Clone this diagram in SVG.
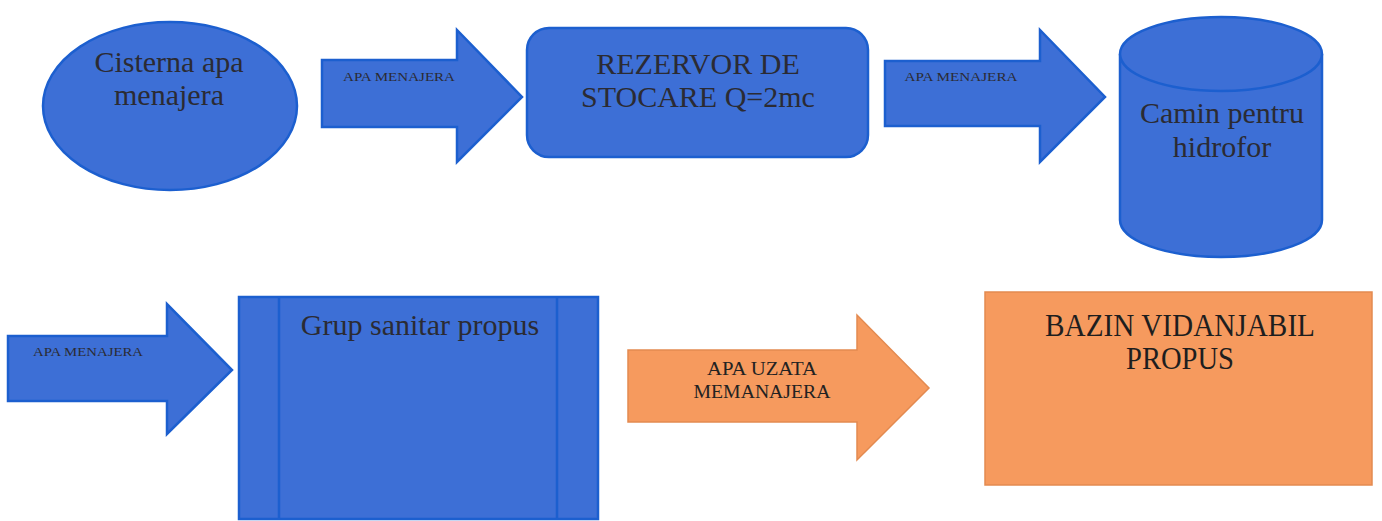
<svg xmlns="http://www.w3.org/2000/svg" width="1382" height="521" viewBox="0 0 1382 521">
<style>
.b{fill:#3d6fd6;stroke:#1c5fcf;stroke-width:2.5}
.o{fill:#f69a5e;stroke:#e38a50;stroke-width:1.5}
.t{font-family:"Liberation Serif","Times New Roman",serif;fill:#2b2b33;text-anchor:middle}
.big{font-size:30px}
.sm{font-size:12.5px}
.md{font-size:19px;fill:#222}
.ob{font-size:31px;fill:#1e1e1e}
</style>
<rect width="1382" height="521" fill="#ffffff"/>
<g id="connectors">
<g id="arrow1">
<polygon class="b" points="322,60 457,60 457,30 522,97 457,162 457,127 322,127"/>
<text class="t sm" x="399" y="81" textLength="112" lengthAdjust="spacingAndGlyphs">APA MENAJERA</text>
</g>
<g id="arrow2">
<polygon class="b" points="885,61 1040,61 1040,30 1105,97 1040,162 1040,126 885,126"/>
<text class="t sm" x="961" y="81" textLength="113" lengthAdjust="spacingAndGlyphs">APA MENAJERA</text>
</g>
<g id="arrow3">
<polygon class="b" points="8,336 167,336 167,304 232,370 167,434 167,401 8,401"/>
<text class="t sm" x="88" y="356" textLength="110" lengthAdjust="spacingAndGlyphs">APA MENAJERA</text>
</g>
<g id="arrow4">
<polygon class="o" points="628,350 857,350 857,315 929,388 857,460 857,422 628,422"/>
<text class="t md" x="762" y="375" textLength="110" lengthAdjust="spacingAndGlyphs">APA UZATA</text>
<text class="t md" x="762" y="398" textLength="137" lengthAdjust="spacingAndGlyphs">MEMANAJERA</text>
</g>
</g>
<g id="cisterna">
<ellipse class="b" cx="170" cy="106" rx="127" ry="84"/>
<text class="t big" x="169" y="72">Cisterna apa</text>
<text class="t big" x="169" y="105">menajera</text>
</g>
<g id="rezervor">
<rect class="b" x="527" y="28" width="341" height="129" rx="22"/>
<text class="t big" x="698" y="74">REZERVOR DE</text>
<text class="t big" x="698" y="107">STOCARE Q=2mc</text>
</g>
<g id="camin">
<path class="b" d="M1120,54 L1120,220 A101,37 0 0 0 1322,220 L1322,54 A101,37 0 0 0 1120,54 Z"/>
<path class="b" fill="none" d="M1120,54 A101,37 0 0 0 1322,54"/>
<text class="t big" x="1222" y="123">Camin pentru</text>
<text class="t big" x="1222" y="157">hidrofor</text>
</g>
<g id="grup">
<rect class="b" x="239" y="297" width="359" height="222"/>
<line class="b" x1="279" y1="297" x2="279" y2="519"/>
<line class="b" x1="557" y1="297" x2="557" y2="519"/>
<text class="t big" x="420" y="335">Grup sanitar propus</text>
</g>
<g id="bazin">
<rect class="o" x="985" y="292" width="387" height="193"/>
<text class="t ob" x="1180" y="336" textLength="270" lengthAdjust="spacingAndGlyphs">BAZIN VIDANJABIL</text>
<text class="t ob" x="1180" y="369" textLength="108" lengthAdjust="spacingAndGlyphs">PROPUS</text>
</g>
</svg>
